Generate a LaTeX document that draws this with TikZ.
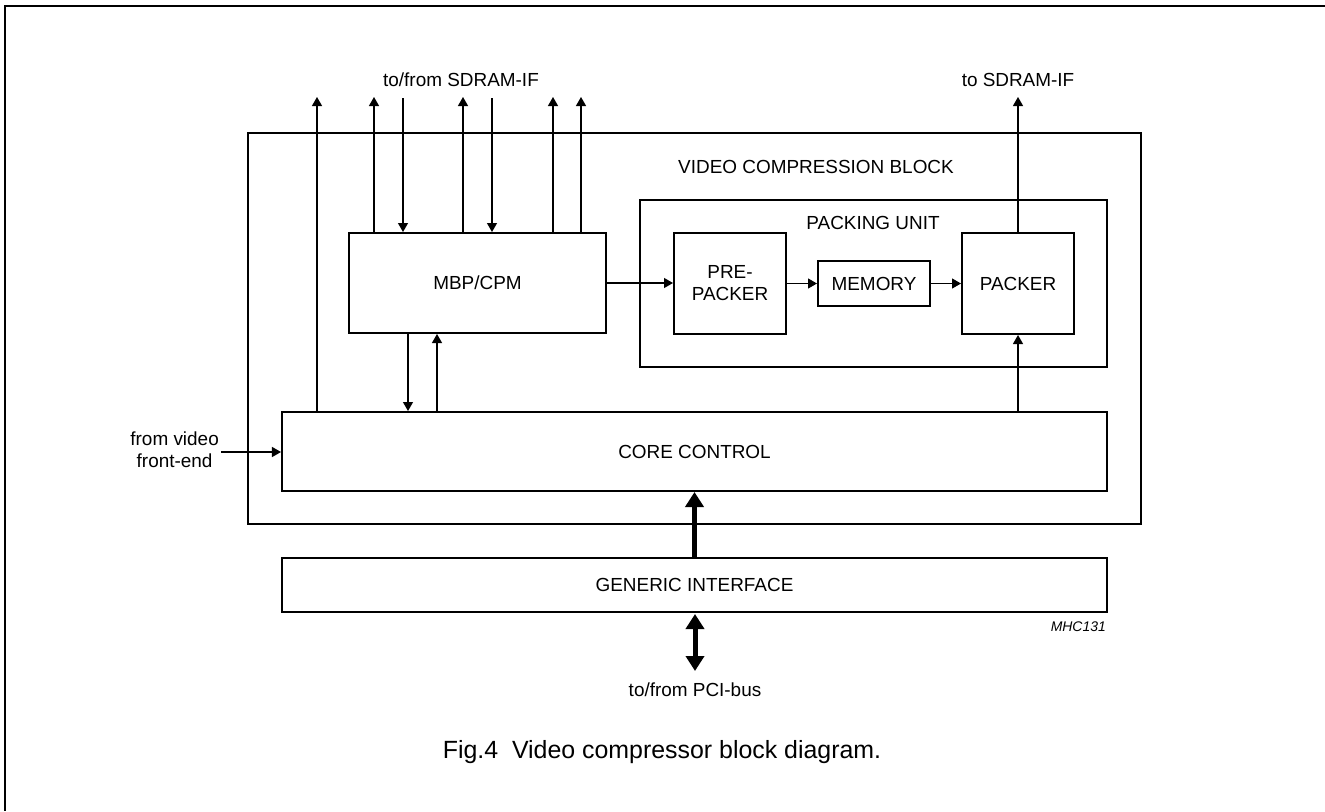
\documentclass[tikz,border=0pt]{standalone}
\usepackage{fontspec}
\setmainfont{Liberation Sans}
\usetikzlibrary{arrows.meta}
\newcommand{\lblfont}{\fontsize{19}{22}\selectfont}
\newcommand{\capfont}{\fontsize{25}{29}\selectfont}
\newcommand{\idfont}{\fontsize{14}{16}\selectfont\itshape}
\begin{document}
\begin{tikzpicture}[x=1bp,y=-1bp,
  box/.style={draw, line width=2bp, inner sep=0pt, font=\lblfont, align=center},
  lbl/.style={inner sep=0pt, font=\lblfont, align=center},
  arr/.style={-{Triangle[length=9bp,width=10bp]}, line width=1.2bp},
  thk/.style={-{Triangle[length=15bp,width=18bp]}, line width=5bp},
  dthk/.style={{Triangle[length=15bp,width=18bp]}-{Triangle[length=15bp,width=18bp]}, line width=5bp}]
\useasboundingbox (0,0) rectangle (1325,811);
% page frame
\draw[line width=1.6bp] (1325,6) -- (5,6) -- (5,811);
% boxes
\node[box, minimum width=893bp, minimum height=391bp] (vcb) at (694.5,328.5) {};
\node[lbl] (vcbl) at (816,167) {VIDEO COMPRESSION BLOCK};
\node[box, minimum width=467bp, minimum height=167bp] (pu) at (873.5,283.5) {};
\node[lbl] (pul) at (873,223) {PACKING UNIT};
\node[box, minimum width=257bp, minimum height=100bp] (mbp) at (477.5,283) {MBP/CPM};
\node[box, minimum width=112bp, minimum height=101bp] (pre) at (730,283.5) {PRE-\\PACKER};
\node[box, minimum width=112bp, minimum height=45bp] (mem) at (874,283.5) {MEMORY};
\node[box, minimum width=112bp, minimum height=101bp] (pck) at (1018,283.5) {PACKER};
\node[box, minimum width=825bp, minimum height=79bp] (core) at (694.5,451.5) {CORE CONTROL};
\node[box, minimum width=825bp, minimum height=54bp] (gen) at (694.5,585) {GENERIC INTERFACE};
% free ends
\coordinate (t0) at (317,97);
\coordinate (t1) at (374,97);
\coordinate (t2) at (403,98);
\coordinate (t3) at (463,97);
\coordinate (t4) at (492,98);
\coordinate (t5) at (553,97);
\coordinate (t6) at (581,97);
\coordinate (t7) at (1018,97);
\coordinate (vin) at (221,452);
\coordinate (pciA) at (695,614);
\coordinate (pciB) at (695,671);
% labels
\node[lbl] (sdl) at (461,80) {to/from SDRAM-IF};
\node[lbl] (sdr) at (1018,80) {to SDRAM-IF};
\node[lbl, anchor=east] (fvl) at (219,450) {from video\\front-end};
\node[lbl] (pcil) at (695,690) {to/from PCI-bus};
\node[inner sep=0pt, font=\idfont, anchor=east] (mhc) at (1106,627) {MHC131};
\node[inner sep=0pt, font=\capfont] (cap) at (662,752) {Fig.4\ \ Video compressor block diagram.};
% connectors
\draw[arr] (core.north -| t0) -- (t0);
\draw[arr] (mbp.north -| t1) -- (t1);
\draw[arr] (t2) -- (mbp.north -| t2);
\draw[arr] (mbp.north -| t3) -- (t3);
\draw[arr] (t4) -- (mbp.north -| t4);
\draw[arr] (mbp.north -| t5) -- (t5);
\draw[arr] (mbp.north -| t6) -- (t6);
\draw[arr] (pck.north) -- (t7);
\draw[arr] (mbp.south -| 408,0) -- (core.north -| 408,0);
\draw[arr] (core.north -| 437,0) -- (mbp.south -| 437,0);
\draw[arr] (core.north -| pck.south) -- (pck.south);
\draw[arr] (mbp.east) -- (pre.west |- mbp.east);
\draw[arr] (pre.east) -- (mem.west);
\draw[arr] (mem.east) -- (pck.west);
\draw[arr] (vin) -- (core.west |- vin);
\draw[thk] (gen.north -| core.south) -- (core.south);
\draw[dthk] (pciA) -- (pciB);
\end{tikzpicture}
\end{document}
